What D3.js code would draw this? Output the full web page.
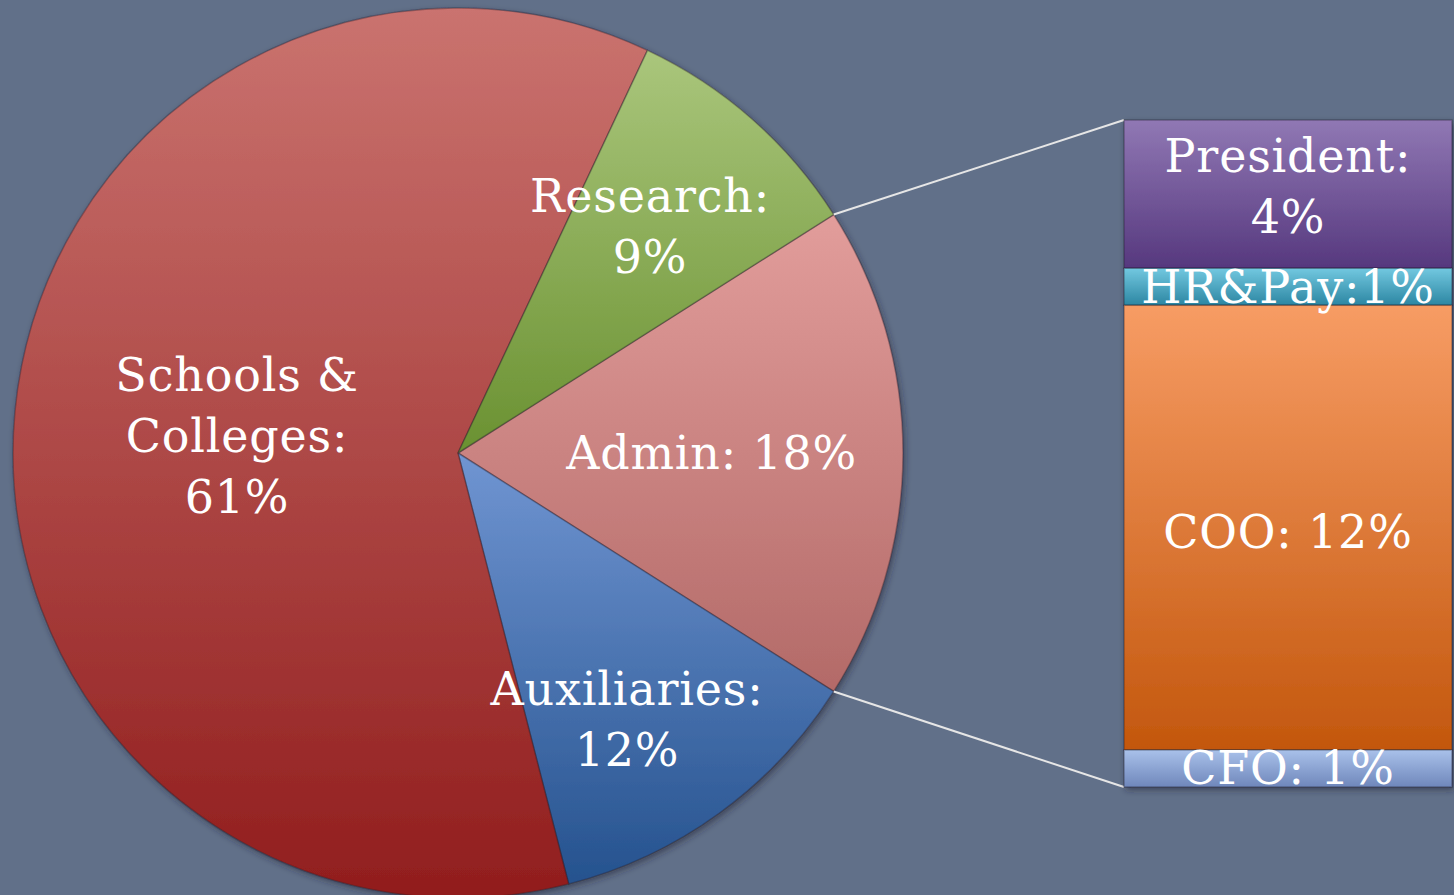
<!DOCTYPE html>
<html lang="en">
<head>
  <meta charset="utf-8">
  <script src="https://d3js.org/d3.v7.min.js"></script>
  <style>
    html, body { margin: 0; padding: 0; background: #617089; overflow: hidden; }
    svg { display: block; }
    text { font-family: "DejaVu Serif", "Liberation Serif", serif; fill: #fff; }
  </style>
</head>
<body>
<svg width="1454" height="895"></svg>
<script>
  // pie data (clockwise from the exploded slice)
  var pieCategories = ["Admin", "Auxiliaries", "Schools & Colleges", "Research"];
  var pieValues = [18, 12, 61, 9];
  var pieLabels = [["Admin: 18%"], ["Auxiliaries:", "12%"], ["Schools &", "Colleges:", "61%"], ["Research:", "9%"]];

  // breakdown of Admin, top to bottom
  var barCategories = ["President", "HR&Pay", "COO", "CFO"];
  var barValues = [4, 1, 12, 1];
  var barLabels = [["President:", "4%"], ["HR&Pay:1%"], ["COO: 12%"], ["CFO: 1%"]];

  var pieColors = {
    "Admin": ["#e29d9b", "#b36a68"],
    "Auxiliaries": ["#7095d2", "#25528e"],
    "Schools & Colleges": ["#ca736f", "#911d1d"],
    "Research": ["#aac67c", "#6a9131"]
  };
  var barColors = {
    "President": ["#9078b4", "#56387e"],
    "HR&Pay": ["#72c8e0", "#2c86a2"],
    "COO": ["#f79c64", "#c3570d"],
    "CFO": ["#a9c1ea", "#6f87bb"]
  };
  // label placement: radius as fraction of pie radius, and angle nudge in degrees
  var labelRadius = { "Admin": 0.57, "Auxiliaries": 0.709, "Schools & Colleges": 0.498, "Research": 0.667 };
  var labelNudge = { "Admin": 0, "Auxiliaries": 3.6, "Schools & Colleges": -1, "Research": -1.1 };

  var svg = d3.select("svg");
  var cx = 458, cy = 453, r = 445;
  var barX = 1124, barW = 328, barTop = 120, barBottom = 787;
  var lineH = 61;

  var defs = svg.append("defs");
  var shadow = defs.append("filter").attr("id", "shadow")
    .attr("x", "-10%").attr("y", "-10%").attr("width", "120%").attr("height", "120%");
  shadow.append("feDropShadow").attr("dx", 2).attr("dy", 3).attr("stdDeviation", 3)
    .attr("flood-color", "#1c2433").attr("flood-opacity", 0.5);

  function addGrad(id, c) {
    var g = defs.append("linearGradient").attr("id", id)
      .attr("x1", 0).attr("y1", 0).attr("x2", 0).attr("y2", 1);
    g.append("stop").attr("offset", "0%").attr("stop-color", c[0]);
    g.append("stop").attr("offset", "100%").attr("stop-color", c[1]);
  }
  pieCategories.forEach(function(c, i) { addGrad("pg" + i, pieColors[c]); });
  barCategories.forEach(function(c, i) { addGrad("bg" + i, barColors[c]); });

  function multiLine(sel, lines, x, y, dyFix) {
    var t = sel.append("text")
      .attr("text-anchor", "middle")
      .attr("font-size", "46px")
      .attr("letter-spacing", "0.8px");
    var first = y - (lines.length - 1) * lineH / 2 + 16 + (dyFix || 0);
    lines.forEach(function(l, i) {
      t.append("tspan").attr("x", x).attr("y", first + i * lineH).text(l);
    });
  }

  // pie
  var total = d3.sum(pieValues);
  var adminShare = pieValues[0] / total;
  var pie = d3.pie().sort(null)
    .startAngle(Math.PI / 2 - Math.PI * adminShare)
    .endAngle(Math.PI / 2 - Math.PI * adminShare + 2 * Math.PI);
  var arcs = pie(pieValues);
  var arc = d3.arc().innerRadius(0).outerRadius(r);

  var gp = svg.append("g").attr("transform", "translate(" + cx + "," + cy + ")");
  gp.append("g").attr("filter", "url(#shadow)")
    .selectAll("path").data(arcs).enter().append("path")
    .attr("d", arc)
    .attr("fill", function(d, i) { return "url(#pg" + i + ")"; })
    .attr("stroke", "rgba(40,30,40,0.35)")
    .attr("stroke-width", 1.5)
    .attr("stroke-linejoin", "round");

  arcs.forEach(function(d, i) {
    var c = pieCategories[i];
    var a = (d.startAngle + d.endAngle) / 2 + labelNudge[c] * Math.PI / 180;
    var k = r * labelRadius[c];
    multiLine(gp, pieLabels[i], Math.sin(a) * k, -Math.cos(a) * k);
  });

  // connector lines from the Admin slice to the bar
  var a0 = arcs[0].startAngle, a1 = arcs[0].endAngle;
  var conn = [
    [[cx + Math.sin(a0) * r, cy - Math.cos(a0) * r], [barX, barTop]],
    [[cx + Math.sin(a1) * r, cy - Math.cos(a1) * r], [barX, barBottom]]
  ];
  svg.selectAll(".conn").data(conn).enter().append("line")
    .attr("class", "conn")
    .attr("x1", function(d) { return d[0][0]; }).attr("y1", function(d) { return d[0][1]; })
    .attr("x2", function(d) { return d[1][0]; }).attr("y2", function(d) { return d[1][1]; })
    .attr("stroke", "#e6e6e6").attr("stroke-width", 2);

  // stacked bar
  var y = d3.scaleLinear().domain([0, d3.sum(barValues)]).range([barTop, barBottom]);
  var cum = 0;
  var segs = barValues.map(function(v, i) {
    var s = { cat: barCategories[i], y0: cum, y1: cum + v, i: i };
    cum += v;
    return s;
  });
  var gb = svg.append("g");
  gb.append("g").attr("filter", "url(#shadow)")
    .selectAll("rect").data(segs).enter().append("rect")
    .attr("x", barX)
    .attr("y", function(d) { return y(d.y0); })
    .attr("width", barW)
    .attr("height", function(d) { return y(d.y1) - y(d.y0); })
    .attr("fill", function(d) { return "url(#bg" + d.i + ")"; })
    .attr("stroke", "rgba(30,25,40,0.35)")
    .attr("stroke-width", 1.5);

  var barFix = [-8, 0, 4, 0];
  segs.forEach(function(d) {
    multiLine(gb, barLabels[d.i], barX + barW / 2, (y(d.y0) + y(d.y1)) / 2, barFix[d.i]);
  });
</script>
</body>
</html>
